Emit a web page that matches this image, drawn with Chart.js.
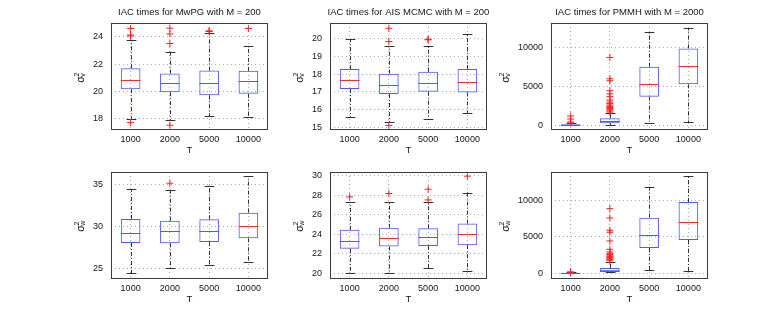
<!DOCTYPE html>
<html>
<head>
<meta charset="utf-8">
<script src="https://cdn.jsdelivr.net/npm/chart.js@4.4.0/dist/chart.umd.min.js"></script>
<style>
  html, body { margin: 0; background: #fff; }
  #wrap { position: relative; width: 782px; height: 313px; overflow: hidden; }
  #wrap canvas { position: absolute; }
</style>
</head>
<body>
<div id="wrap"></div>
<script>
// categorias (T)
const categorias = ['1000', '2000', '5000', '10000'];

// MwPG, sigma^2_v
const mwpgV_lo  = [18.0, 17.9, 18.19, 18.14];
const mwpgV_q1  = [20.16, 19.94, 19.72, 19.82];
const mwpgV_med = [20.84, 20.62, 20.6, 20.74];
const mwpgV_q3  = [21.69, 21.3, 21.52, 21.5];
const mwpgV_hi  = [23.76, 22.9, 24.25, 23.34];
const mwpgV_out = [[24.6, 24.12, 24.05, 17.72], [24.62, 24.2, 23.5, 17.53], [24.38, 24.43], [24.6]];
const mwpgV_ticks = [18, 20, 22, 24];
const mwpgV_range = [17.25, 25];

// AIS MCMC, sigma^2_v
const aisV_lo  = [15.59, 15.3, 15.47, 15.81];
const aisV_q1  = [17.16, 16.88, 17.01, 16.97];
const aisV_med = [17.69, 17.39, 17.5, 17.58];
const aisV_q3  = [18.29, 18.03, 18.14, 18.29];
const aisV_hi  = [20.0, 19.6, 19.6, 20.26];
const aisV_out = [[], [20.6, 19.85, 15.1], [19.98, 19.95], []];
const aisV_ticks = [15, 16, 17, 18, 19, 20];
const aisV_range = [14.9, 20.9];

// PMMH, sigma^2_v
const pmmhV_lo  = [0, 30, 260, 425];
const pmmhV_q1  = [20, 260, 3690, 5280];
const pmmhV_med = [60, 515, 5280, 7600];
const pmmhV_q3  = [120, 900, 7550, 9920];
const pmmhV_hi  = [230, 1550, 12060, 12500];
const pmmhV_out = [
  [1200, 810, 425, 300],
  [8760, 6000, 5750, 4460, 4050, 3700, 3250, 3000, 2800, 2600, 2450, 2300, 2150, 2000, 1850, 1700],
  [], []
];
const pmmhV_ticks = [0, 5000, 10000];
const pmmhV_range = [-480, 13200];

// MwPG, sigma^2_w
const mwpgW_lo  = [24.4, 25.07, 25.4, 25.75];
const mwpgW_q1  = [28.01, 27.98, 28.13, 28.57];
const mwpgW_med = [29.17, 29.44, 29.48, 30.07];
const mwpgW_q3  = [30.87, 30.67, 30.83, 31.62];
const mwpgW_hi  = [34.44, 34.36, 34.83, 35.95];
const mwpgW_out = [[], [35.12], [], []];
const mwpgW_ticks = [25, 30, 35];
const mwpgW_range = [23.85, 36.45];

// AIS MCMC, sigma^2_w
const aisW_lo  = [20.0, 20.0, 20.51, 20.2];
const aisW_q1  = [22.5, 22.74, 22.8, 22.88];
const aisW_med = [23.29, 23.63, 23.7, 23.98];
const aisW_q3  = [24.45, 24.66, 24.62, 25.1];
const aisW_hi  = [27.3, 27.33, 27.33, 28.29];
const aisW_out = [[27.84], [28.19], [28.63, 27.53], [29.97]];
const aisW_ticks = [20, 22, 24, 26, 28, 30];
const aisW_range = [19.5, 30.4];

// PMMH, sigma^2_w
const pmmhW_lo  = [0, 140, 450, 275];
const pmmhW_q1  = [15, 275, 3480, 4590];
const pmmhW_med = [40, 360, 5230, 7070];
const pmmhW_q3  = [80, 730, 7660, 9820];
const pmmhW_hi  = [150, 1560, 11930, 13360];
const pmmhW_out = [
  [200, 120],
  [8900, 7620, 5920, 5650, 4450, 3300, 2930, 2700, 2570, 2400, 2290, 2150, 2010, 1870, 1740],
  [], []
];
const pmmhW_ticks = [0, 5000, 10000];
const pmmhW_range = [-650, 13950];

const FONTE = "'Liberation Sans', Arial, sans-serif";
const COR = {
  box:    'rgb(80,90,255)',
  median: 'rgb(255,40,40)',
  out:    'rgb(255,30,30)',
  whisk:  'rgb(50,50,50)',
  frame:  'rgb(60,60,60)',
  grid:   'rgb(175,175,175)',
  text:   'rgb(20,20,20)',
};

const PLOT_W = 157, PLOT_H = 106, PAD_L = 60, PAD_T = 23, PAD_R = 8, PAD_B = 32;

// whiskers, medianas, moldura, título e rótulo do eixo y
const boxExtras = {
  id: 'boxExtras',
  beforeDatasetsDraw(chart) {
    const p = chart.options.plugins.boxExtras;
    const ctx = chart.ctx, x = chart.scales.x, y = chart.scales.y;
    const meta = chart.getDatasetMeta(0);
    ctx.save();
    ctx.lineWidth = 1;
    ctx.strokeStyle = COR.whisk;
    categorias.forEach((c, i) => {
      const cx = Math.round(x.getPixelForValue(i)) + 0.5;
      const half = meta.data[i].width / 4;
      const yLo = y.getPixelForValue(p.lo[i]), yQ1 = y.getPixelForValue(p.q1[i]);
      const yQ3 = y.getPixelForValue(p.q3[i]), yHi = y.getPixelForValue(p.hi[i]);
      ctx.setLineDash([4, 2, 1, 2]);
      ctx.beginPath();
      ctx.moveTo(cx, yQ3); ctx.lineTo(cx, yHi);
      ctx.moveTo(cx, yQ1); ctx.lineTo(cx, yLo);
      ctx.stroke();
      ctx.setLineDash([]);
      ctx.beginPath();
      const a = Math.round(yHi) + 0.5, b = Math.round(yLo) + 0.5;
      ctx.moveTo(cx - half, a); ctx.lineTo(cx + half, a);
      ctx.moveTo(cx - half, b); ctx.lineTo(cx + half, b);
      ctx.stroke();
    });
    ctx.restore();
  },
  afterDatasetsDraw(chart) {
    const p = chart.options.plugins.boxExtras;
    const ctx = chart.ctx, x = chart.scales.x, y = chart.scales.y;
    const meta = chart.getDatasetMeta(0);
    ctx.save();
    ctx.lineWidth = 1;
    ctx.strokeStyle = COR.median;
    categorias.forEach((c, i) => {
      const cx = x.getPixelForValue(i);
      const half = meta.data[i].width / 2;
      const ym = Math.round(y.getPixelForValue(p.med[i])) + 0.5;
      ctx.beginPath();
      ctx.moveTo(cx - half, ym); ctx.lineTo(cx + half, ym);
      ctx.stroke();
    });
    ctx.restore();
  },
  afterDraw(chart) {
    const p = chart.options.plugins.boxExtras;
    const ctx = chart.ctx, a = chart.chartArea;
    ctx.save();
    ctx.strokeStyle = COR.frame;
    ctx.lineWidth = 1;
    ctx.strokeRect(Math.round(a.left) + 0.5, Math.round(a.top) + 0.5,
                   Math.round(a.right - a.left) - 1, Math.round(a.bottom - a.top));
    ctx.fillStyle = COR.text;
    if (p.title) {
      ctx.font = '9.5px ' + FONTE;
      ctx.textAlign = 'center';
      ctx.textBaseline = 'middle';
      ctx.fillText(p.title, (a.left + a.right) / 2, a.top - 10.5);
    }
    // largura do maior rótulo do eixo y
    ctx.font = '9px ' + FONTE;
    const larg = Math.max(...chart.scales.y.ticks.map(t => ctx.measureText(t.label).width));
    const lx = a.left - larg - 8 - 12.5;
    const ly = (a.top + a.bottom) / 2 + 1;
    ctx.translate(lx, ly);
    ctx.rotate(-Math.PI / 2);
    ctx.textAlign = 'left';
    ctx.textBaseline = 'alphabetic';
    ctx.font = '10.5px ' + FONTE;
    ctx.fillText('σ', -5.7, 3.3);
    ctx.font = '7px ' + FONTE;
    ctx.fillText('2', 0.4, -1);
    ctx.fillText(p.sub, 0.2, 4.6);
    ctx.restore();
  },
};

function criarPainel(left, top, title, sub, d) {
  const cv = document.createElement('canvas');
  const w = PAD_L + PLOT_W + PAD_R, h = PAD_T + PLOT_H + PAD_B;
  cv.width = w; cv.height = h;
  cv.style.left = (left - PAD_L) + 'px';
  cv.style.top = (top - PAD_T) + 'px';
  cv.style.width = w + 'px'; cv.style.height = h + 'px';
  document.getElementById('wrap').appendChild(cv);

  const outliers = [];
  d.out.forEach((vals, i) => vals.forEach(v => outliers.push({ x: categorias[i], y: v })));

  return new Chart(cv, {
    type: 'bar',
    data: {
      labels: categorias,
      datasets: [
        {
          data: categorias.map((c, i) => [d.q1[i], d.q3[i]]),
          backgroundColor: 'rgba(0,0,0,0)',
          borderColor: COR.box,
          borderWidth: 1,
          borderSkipped: false,
          barPercentage: 0.5,
          categoryPercentage: 1.0,
        },
        {
          type: 'line',
          data: outliers,
          showLine: false,
          pointStyle: 'cross',
          pointRadius: 3.5,
          pointBorderWidth: 1,
          pointBorderColor: COR.out,
          pointBackgroundColor: COR.out,
        },
      ],
    },
    options: {
      responsive: false,
      animation: false,
      devicePixelRatio: 1,
      events: [],
      layout: { padding: { top: PAD_T, right: PAD_R, bottom: 0, left: 0 } },
      plugins: {
        legend: { display: false },
        tooltip: { enabled: false },
        boxExtras: { title, sub, lo: d.lo, q1: d.q1, med: d.med, q3: d.q3, hi: d.hi },
      },
      scales: {
        x: {
          offset: true,
          grid: { offset: false, color: COR.grid, drawTicks: false },
          border: { display: false, dash: [1, 3] },
          ticks: { color: COR.text, font: { family: FONTE, size: 9 }, padding: 5, maxRotation: 0 },
          title: { display: true, text: 'T', color: COR.text, font: { family: FONTE, size: 9.5 }, padding: { top: 0, bottom: 5 } },
          afterFit: s => { s.height = PAD_B; },
        },
        y: {
          min: d.range[0],
          max: d.range[1],
          grid: { color: COR.grid, drawTicks: false },
          border: { display: false, dash: [1, 3] },
          ticks: { color: COR.text, font: { family: FONTE, size: 9 }, padding: 8, callback: v => String(v) },
          afterBuildTicks: s => { s.ticks = d.ticks.map(v => ({ value: v })); },
          afterFit: s => { s.width = PAD_L; },
        },
      },
    },
    plugins: [boxExtras],
  });
}

const pack = (lo, q1, med, q3, hi, out, ticks, range) => ({ lo, q1, med, q3, hi, out, ticks, range });

criarPainel(111, 23, 'IAC times for MwPG with M = 200', 'v',
  pack(mwpgV_lo, mwpgV_q1, mwpgV_med, mwpgV_q3, mwpgV_hi, mwpgV_out, mwpgV_ticks, mwpgV_range));
criarPainel(330, 23, 'IAC times for AIS MCMC with M = 200', 'v',
  pack(aisV_lo, aisV_q1, aisV_med, aisV_q3, aisV_hi, aisV_out, aisV_ticks, aisV_range));
criarPainel(551, 23, 'IAC times for PMMH with M = 2000', 'v',
  pack(pmmhV_lo, pmmhV_q1, pmmhV_med, pmmhV_q3, pmmhV_hi, pmmhV_out, pmmhV_ticks, pmmhV_range));
criarPainel(111, 172, '', 'w',
  pack(mwpgW_lo, mwpgW_q1, mwpgW_med, mwpgW_q3, mwpgW_hi, mwpgW_out, mwpgW_ticks, mwpgW_range));
criarPainel(330, 172, '', 'w',
  pack(aisW_lo, aisW_q1, aisW_med, aisW_q3, aisW_hi, aisW_out, aisW_ticks, aisW_range));
criarPainel(551, 172, '', 'w',
  pack(pmmhW_lo, pmmhW_q1, pmmhW_med, pmmhW_q3, pmmhW_hi, pmmhW_out, pmmhW_ticks, pmmhW_range));
</script>
</body>
</html>
